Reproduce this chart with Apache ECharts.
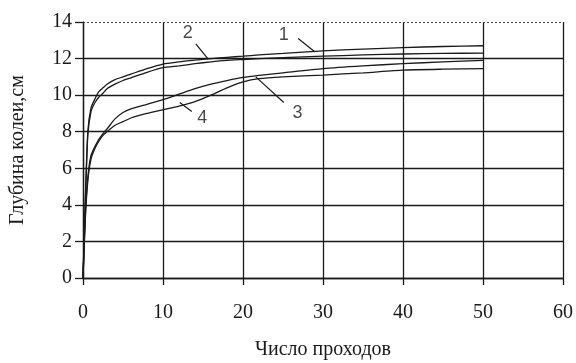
<!DOCTYPE html>
<html>
<head>
<meta charset="utf-8">
<script src="https://cdn.jsdelivr.net/npm/echarts@6/dist/echarts.min.js"></script>
<style>html,body{margin:0;padding:0;background:#fff}#c{width:576px;height:363px}</style>
</head>
<body>
<div id="c"></div>
<script>
// Число проходов (x) — shared sample points
const passes = [0, 0.3, 0.6, 1, 1.5, 2, 2.5, 3, 4, 5, 6, 8, 10, 12, 14, 16, 18, 20, 22, 25, 30, 35, 40, 45, 50];
// Глубина колеи, см
const curve1 = [0, 4.5, 8.0, 9.3, 9.8, 10.2, 10.4, 10.6, 10.85, 11.0, 11.15, 11.45, 11.7, 11.82, 11.92, 12.0, 12.07, 12.13, 12.2, 12.28, 12.42, 12.52, 12.6, 12.66, 12.7];
const curve2 = [0, 4.2, 7.8, 9.1, 9.6, 9.9, 10.1, 10.35, 10.6, 10.8, 10.95, 11.25, 11.5, 11.6, 11.72, 11.82, 11.9, 11.95, 12.0, 12.05, 12.13, 12.2, 12.25, 12.28, 12.3];
const curve3 = [0, 3.5, 5.5, 6.7, 7.2, 7.6, 7.9, 8.15, 8.7, 9.05, 9.25, 9.5, 9.75, 10.05, 10.35, 10.6, 10.8, 10.97, 11.08, 11.22, 11.45, 11.6, 11.72, 11.82, 11.9];
const curve4 = [0, 3.3, 5.3, 6.5, 7.1, 7.5, 7.8, 8.0, 8.35, 8.55, 8.75, 9.0, 9.2, 9.4, 9.65, 10.0, 10.4, 10.72, 10.9, 11.0, 11.1, 11.22, 11.37, 11.42, 11.45];
const curveNames = ['1', '2', '3', '4'];
const xTicks = [0, 10, 20, 30, 40, 50, 60];
const yTicks = [0, 2, 4, 6, 8, 10, 12, 14];
// curve-number annotations (data coordinates): label position, leader start, leader end
const labelPos = [[25.1, 13.3], [13.1, 13.4], [26.8, 9.0], [14.9, 8.75]];
const leaderFrom = [[26.9, 13.1], [14.1, 12.8], [25.1, 9.6], [13.6, 9.1]];
const leaderTo = [[29.0, 12.36], [15.6, 12.0], [21.6, 11.0], [12.1, 9.6]];

const curves = [curve1, curve2, curve3, curve4];
const ink = '#1a1a1a';
const serif = '"Liberation Serif","Times New Roman",serif';

const series = curves.map((c, i) => ({
  type: 'line',
  name: curveNames[i],
  data: passes.map((x, k) => [x, c[k]]),
  showSymbol: false,
  smooth: 0.2,
  lineStyle: { color: ink, width: 1.3 },
  z: 3,
  silent: true,
  markLine: {
    silent: true,
    symbol: ['none', 'none'],
    label: { show: false },
    lineStyle: { color: ink, width: 1.2, type: 'solid' },
    data: [[{ coord: leaderFrom[i] }, { coord: leaderTo[i] }]]
  }
}));

series.push({
  type: 'scatter',
  data: labelPos.map((p, i) => ({ value: p, name: curveNames[i] })),
  symbolSize: 0,
  silent: true,
  label: {
    show: true,
    position: 'inside',
    formatter: p => p.name,
    fontFamily: '"Liberation Sans",Arial,sans-serif',
    fontSize: 18,
    color: ink
  }
});

// dotted top border at y = max
series.push({
  type: 'line',
  data: [],
  markLine: {
    silent: true,
    symbol: ['none', 'none'],
    label: { show: false },
    lineStyle: { color: '#444', width: 1, type: [2, 2] },
    data: [[{ coord: [xTicks[0], yTicks[yTicks.length - 1]] }, { coord: [xTicks[xTicks.length - 1], yTicks[yTicks.length - 1]] }]]
  }
});

const chart = echarts.init(document.getElementById('c'), null, { renderer: 'canvas' });
chart.setOption({
  animation: false,
  backgroundColor: '#fff',
  grid: { left: 83, right: 13, top: 22, bottom: 85, containLabel: false, outerBoundsMode: 'none' },
  xAxis: {
    type: 'value',
    min: xTicks[0], max: xTicks[xTicks.length - 1], interval: 10,
    name: 'Число проходов',
    nameLocation: 'middle',
    nameGap: 62,
    nameTextStyle: { fontFamily: serif, fontSize: 20, color: ink },
    axisLine: { show: true, onZero: false, lineStyle: { color: ink, width: 1.3 } },
    axisTick: { show: true, inside: false, length: 7, lineStyle: { color: ink, width: 1.3 } },
    axisLabel: { fontFamily: serif, fontSize: 20, color: ink, margin: 25 },
    splitLine: { show: true, lineStyle: { color: ink, width: 1.3 } }
  },
  yAxis: {
    type: 'value',
    min: yTicks[0], max: yTicks[yTicks.length - 1], interval: 2,
    name: 'Глубина колеи,см',
    nameLocation: 'middle',
    nameGap: 55,
    nameTextStyle: { fontFamily: serif, fontSize: 20, color: ink },
    axisLine: { show: true, lineStyle: { color: ink, width: 1.3 } },
    axisTick: { show: true, inside: false, length: 8, lineStyle: { color: ink, width: 1.3 } },
    axisLabel: { fontFamily: serif, fontSize: 20, color: ink, margin: 11 },
    splitLine: { show: true, showMaxLine: false, lineStyle: { color: ink, width: 1.3 } }
  },
  series: series
});
</script>
</body>
</html>
